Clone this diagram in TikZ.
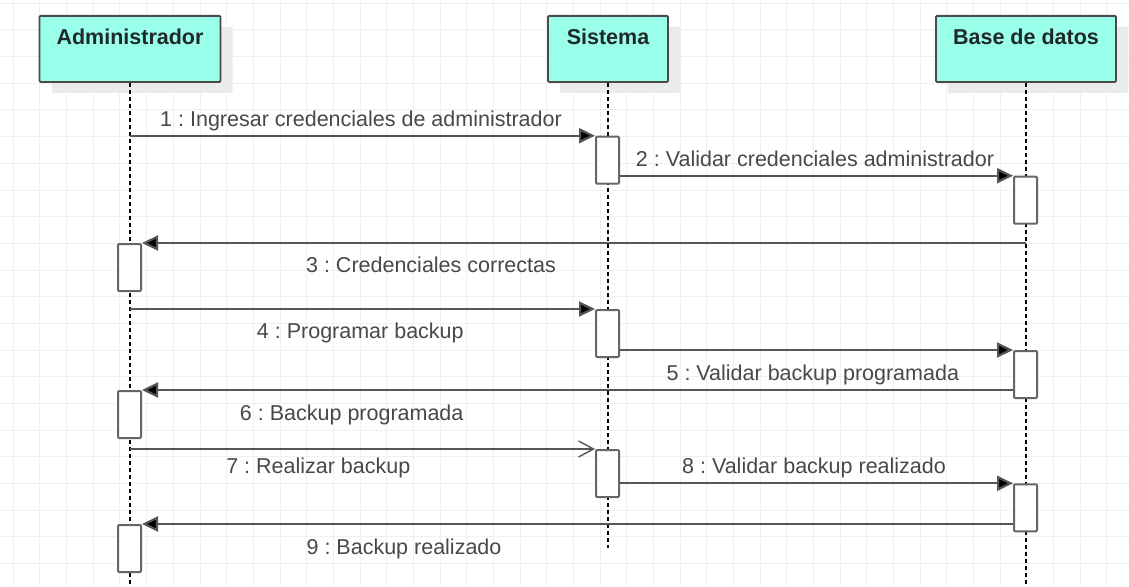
\documentclass[tikz,border=0pt]{standalone}
\usepackage{fontspec}
\setmainfont{Liberation Sans}
\frenchspacing
\usetikzlibrary{arrows.meta,shadows}
\definecolor{hdrfill}{HTML}{99FFEB}
\definecolor{hdrline}{HTML}{4A4A4A}
\definecolor{shadowc}{HTML}{EBEBEB}
\definecolor{gridc}{HTML}{F0F0F0}
\definecolor{msgc}{HTML}{555555}
\definecolor{actc}{HTML}{666666}
\definecolor{txtc}{HTML}{484848}
\definecolor{hdrtxt}{HTML}{1F2929}
\begin{document}
\begin{tikzpicture}[x=1pt,y=-1pt,
  hdr/.style={draw=hdrline, line width=1.8pt, fill=hdrfill, rounded corners=1pt,
    inner xsep=0pt, inner ysep=0pt, minimum height=66pt, text height=29pt, text depth=37pt,
    anchor=north, text=hdrtxt, font=\fontsize{21.5}{25}\selectfont\bfseries,
    general shadow={fill=shadowc, shadow xshift=12pt, shadow yshift=-11pt}},
  act/.style={draw=actc, line width=2pt, fill=white, rounded corners=1pt, inner sep=0pt,
    minimum width=23pt, minimum height=47pt, anchor=north west},
  lifeline/.style={draw=black, line width=1.3pt, dash pattern=on 4pt off 3pt},
  msg/.style={draw=msgc, line width=2.2pt, -{Triangle[length=16pt,width=15pt,fill=black]}},
  amsg/.style={draw=msgc, line width=2.2pt, -{Straight Barb[length=15pt,width=16pt,line width=1.4pt]}},
  lbl/.style={anchor=base, text=txtc, inner sep=0pt, font=\fontsize{21.5}{25}\selectfont}]
\useasboundingbox (0,0) rectangle (1129,586);
\fill[white] (0,0) rectangle (1129,586);
% grid
\foreach \i in {0,...,42} \draw[gridc, line width=1pt] ({13.33+\i*26.667},0) -- ++(0,586);
\foreach \j in {0,...,21} \draw[gridc, line width=1pt] (0,{3.33+\j*26.667}) -- ++(1129,0);
% headers
\node[hdr, minimum width=181pt] (adm) at (130,15) {Administrador};
\node[hdr, minimum width=120pt] (sis) at (608,15) {Sistema};
\node[hdr, minimum width=180pt] (bd) at (1026,15) {Base de datos};
% lifeline ends
\coordinate (adm-end) at (130,586);
\coordinate (sis-end) at (608,548);
\coordinate (bd-end) at (1026,586);
\draw[lifeline] (adm.south) -- (adm-end);
\draw[lifeline] (sis.south) -- (sis-end);
\draw[lifeline] (bd.south) -- (bd-end);
% activations
\node[act] (sa1) at (595,135.7) {};
\node[act] (ba1) at (1013,175.7) {};
\node[act] (aa1) at (117,243) {};
\node[act] (sa2) at (595,309) {};
\node[act] (ba2) at (1013,350) {};
\node[act] (aa2) at (117,390) {};
\node[act] (sa3) at (595,449) {};
\node[act] (ba3) at (1013,483.3) {};
\node[act] (aa3) at (117,524) {};
% messages
\draw[msg] (sa1.north west -| adm) -- (sa1.north west);
\draw[msg] (ba1.north west -| sa1.east) -- (ba1.north west);
\draw[msg] (aa1.north east -| bd) -- (aa1.north east);
\draw[msg] (sa2.north west -| adm) -- (sa2.north west);
\draw[msg] (ba2.north west -| sa2.east) -- (ba2.north west);
\draw[msg] (aa2.north east -| ba2.west) -- (aa2.north east);
\draw[amsg] (sa3.north west -| adm) -- (sa3.north west);
\draw[msg] (ba3.north west -| sa3.east) -- (ba3.north west);
\draw[msg] (aa3.north east -| ba3.west) -- (aa3.north east);
% labels
\node[lbl] (l1) at (361,126) {1 : Ingresar credenciales de administrador};
\node[lbl] (l2) at (815,166) {2 : Validar credenciales administrador};
\node[lbl] (l3) at (431,272.7) {3 : Credenciales correctas};
\node[lbl] (l4) at (360.3,338.3) {4 : Programar backup};
\node[lbl] (l5) at (812.8,380.7) {5 : Validar backup programada};
\node[lbl] (l6) at (351.7,420.7) {6 : Backup programada};
\node[lbl] (l7) at (318.3,473.3) {7 : Realizar backup};
\node[lbl] (l8) at (814,473.3) {8 : Validar backup realizado};
\node[lbl] (l9) at (404,554) {9 : Backup realizado};
\end{tikzpicture}
\end{document}
